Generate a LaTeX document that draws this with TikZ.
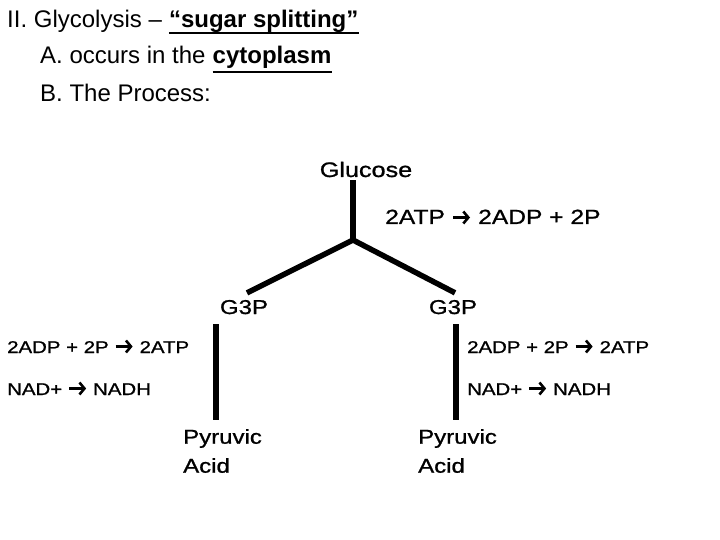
\documentclass[tikz,border=0pt]{standalone}
\usepackage{fontspec}
\setmainfont{Liberation Sans}
\newfontfamily\diagfont[FakeStretch=1.2, FakeBold=1]{Liberation Sans}
\usetikzlibrary{positioning,calc,arrows.meta}
\newcommand{\rarr}{\tikz[x=1pt, y=1pt, baseline=0pt]
  \draw[line width=2.6pt, -{Straight Barb[length=5pt, width=12pt, line width=2.6pt]}] (0,6.5) -- (17,6.5);}

\begin{document}
\begin{tikzpicture}[x=1pt, y=-1pt,
  txt/.style={anchor=base west, inner sep=0pt, font=\fontsize{24}{28}\selectfont},
  bold/.style={txt, font=\bfseries\fontsize{24}{28}\selectfont},
  diag/.style={inner sep=0pt, font=\diagfont\fontsize{20}{29}\selectfont},
  react/.style={anchor=base west, inner sep=0pt, font=\diagfont\fontsize{17}{22}\selectfont},
  uline/.style={line width=2pt},
  stem/.style={line width=5.5pt}]
\useasboundingbox (0,0) rectangle (720,540);

% heading lines
\node[txt] (title) at (7,28) {II. Glycolysis –};
\node[bold] (split) at ($(title.base east)+(6.7,0)$) {“sugar splitting”};
\draw[uline] ($(split.base west)+(0,5)$) -- ($(split.base east)+(0,5)$);
\node[txt] (occurs) at (40,64) {A. occurs in the};
\node[bold] (cyto) at ($(occurs.base east)+(6.7,0)$) {cytoplasm};
\draw[uline] ($(cyto.base west)+(0,8)$) -- ($(cyto.base east)+(0,8)$);
\node[txt] (process) at (40,102) {B. The Process:};

% glucose splits in two
\node[diag, anchor=base, font=\diagfont\fontsize{21}{24}\selectfont] (glucose) at (366,177) {Glucose};
\node[react, font=\diagfont\fontsize{20.5}{24}\selectfont] (atpuse) at (385,224) {2ATP \rarr{} 2ADP + 2P};
\coordinate (fork) at (353,240);
\node[diag, anchor=base] (g3pL) at (244,314) {G3P};
\node[diag, anchor=base] (g3pR) at (453,314) {G3P};
\draw[stem] ([yshift=-3pt]fork |- glucose.south) -- (fork);
\draw[stem] (fork) -- ([xshift=3pt, yshift=7pt]g3pL.north);
\draw[stem] (fork) -- ([xshift=2pt, yshift=7pt]g3pR.north);

% left half
\node[react] (atpL) at (7,353) {2ADP + 2P \rarr{} 2ATP};
\node[react] (nadL) at (7,395) {NAD+ \rarr{} NADH};
\node[diag, anchor=north west, align=left] (pyrL) at (183,429) {Pyruvic\\Acid};
\coordinate (stemLtop) at (216,324);
\coordinate (stemLbot) at (216,420);
\draw[stem] (stemLtop) -- (stemLbot);

% right half
\node[react] (atpR) at (467,353) {2ADP + 2P \rarr{} 2ATP};
\node[react] (nadR) at (467,395) {NAD+ \rarr{} NADH};
\node[diag, anchor=north west, align=left] (pyrR) at (418,429) {Pyruvic\\Acid};
\coordinate (stemRtop) at (456,324);
\coordinate (stemRbot) at (456,420);
\draw[stem] (stemRtop) -- (stemRbot);
\end{tikzpicture}
\end{document}
